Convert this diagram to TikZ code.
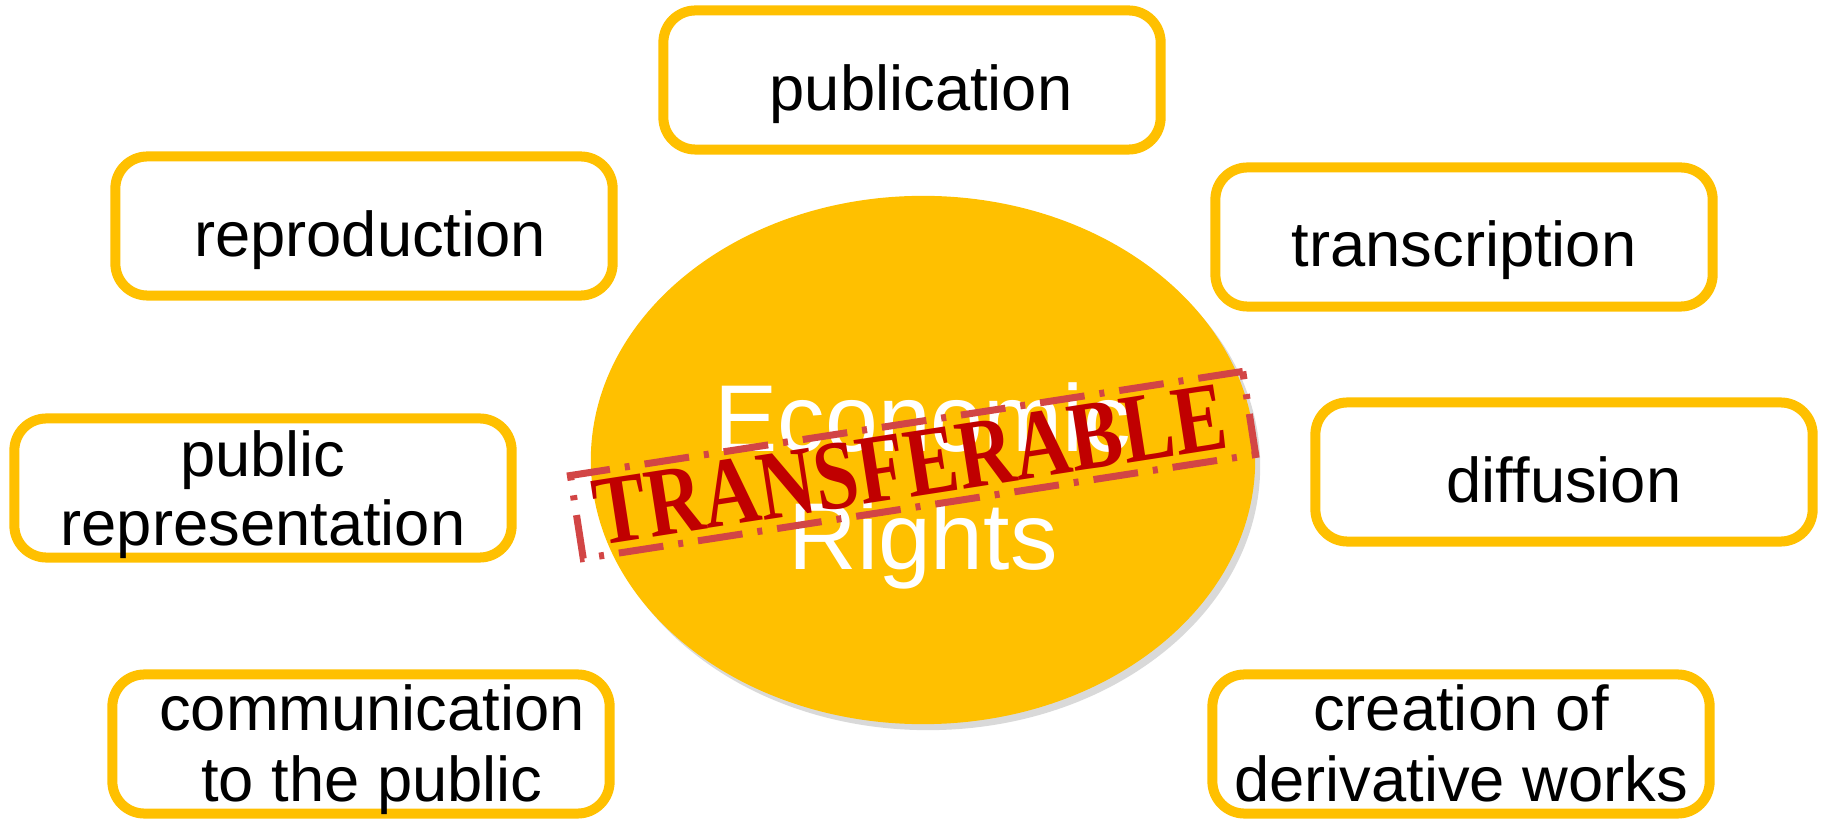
\documentclass[tikz,border=0pt]{standalone}
\usepackage{fontspec}
\setmainfont{Liberation Sans}
\newfontfamily\stampfont{Liberation Serif}
\usetikzlibrary{shapes.geometric}
\definecolor{gold}{HTML}{FFC000}
\definecolor{stampred}{HTML}{C00000}
\definecolor{framered}{HTML}{D24545}
\tikzset{
  box/.style={draw=gold, line width=0.1cm, rounded corners=0.32cm, fill=white,
    minimum width=4.97cm, minimum height=1.39cm, inner sep=0pt},
  lbl/.style={font=\fontsize{18}{19.7}\selectfont, text=black, inner sep=0pt},
  big/.style={font=\fontsize{27}{33.6}\selectfont, text=white, inner sep=0pt},
  stampbox/.style={draw=framered, line width=0.07cm,
    dash pattern=on 0.45cm off 0.15cm on 0.05cm off 0.15cm, minimum width=6.8cm,
    minimum height=0.84cm, inner sep=0pt},
}
\begin{document}
\begin{tikzpicture}[x=0.01cm, y=-0.01cm]
\useasboundingbox (0,0) rectangle (1825,819);
% central ellipse with shadow
\fill[black, opacity=0.15] (928,466) ellipse [x radius=3.32cm, y radius=2.64cm];
\node[ellipse, fill=gold, minimum width=6.64cm, minimum height=5.28cm, inner sep=0pt] (core) at (923,460) {};
\node[big, anchor=base] (econ) at (923,452) {Economic};
\node[big, anchor=base] (rights) at (923,570) {Rights};
% boxes
\node[box] (pub) at (912,80) {};
\node[box] (rep) at (364,226) {};
\node[box] (trans) at (1464,237) {};
\node[box] (prep) at (263,488) {};
\node[box] (diff) at (1564,472) {};
\node[box] (comm) at (361,744) {};
\node[box] (creat) at (1461,744) {};
\node[lbl, anchor=base] (pubt) at ([xshift=0.09cm, yshift=-0.30cm]pub.center) {publication};
\node[lbl, anchor=base] (rept) at ([xshift=0.06cm, yshift=-0.30cm]rep.center) {reproduction};
\node[lbl, anchor=base] (transt) at ([yshift=-0.29cm]trans.center) {transcription};
\node[lbl, anchor=base] (difft) at ([yshift=-0.30cm]diff.center) {diffusion};
\node[lbl, anchor=base] (prept1) at ([yshift=0.11cm]prep.center) {public};
\node[lbl, anchor=base] (prept2) at ([yshift=-0.57cm]prep.center) {representation};
\node[lbl, anchor=base] (commt1) at ([xshift=0.11cm, yshift=0.13cm]comm.center) {communication};
\node[lbl, anchor=base] (commt2) at ([xshift=0.11cm, yshift=-0.57cm]comm.center) {to the public};
\node[lbl, anchor=base] (creatt1) at ([yshift=0.13cm]creat.center) {creation of};
\node[lbl, anchor=base] (creatt2) at ([yshift=-0.57cm]creat.center) {derivative works};
% stamp
\node[stampbox, rotate=8.8] (stamp) at (913,465) {};
\node[rotate=8.8, xscale=0.8, text=stampred, inner sep=0pt, font=\stampfont\bfseries\fontsize{28}{28}\selectfont] (stampt) at ([xshift=-0.03cm]stamp.center) {TRANSFERABLE};
\end{tikzpicture}
\end{document}
